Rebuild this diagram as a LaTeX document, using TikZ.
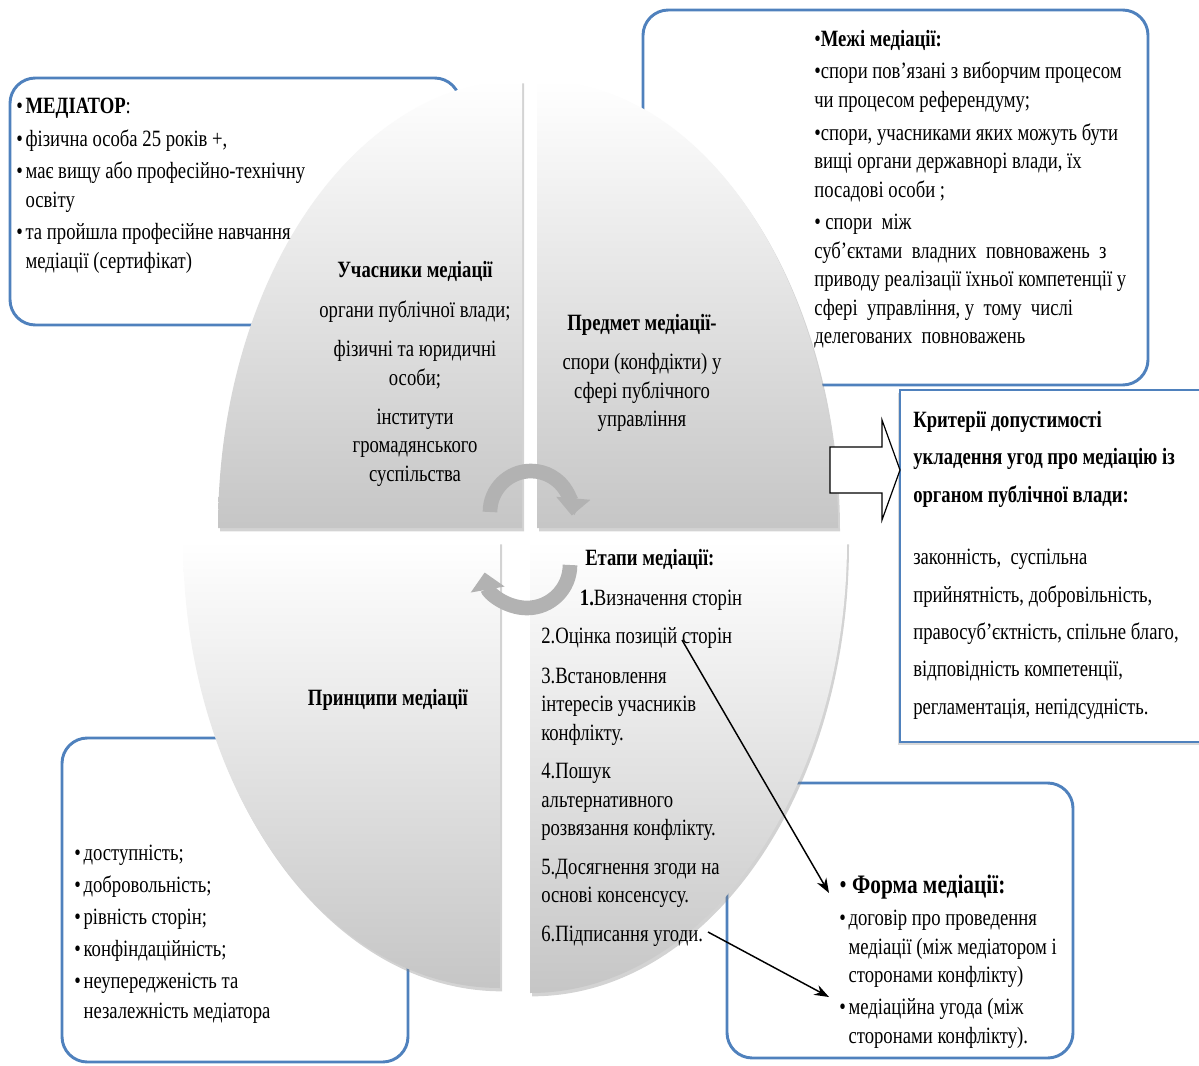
\documentclass[tikz,border=0pt]{standalone}
\usepackage{fontspec}
\setmainfont{Liberation Serif}[FakeStretch=0.8]
\usepackage{tikz}
\usetikzlibrary{arrows.meta}
\usetikzlibrary{shadows}
\definecolor{boxblue}{RGB}{79,129,189}
\newcommand{\natsp}{\spaceskip=0pt\xspaceskip=0pt\relax}
\newcommand{\bul}[1]{\par\noindent\hangindent=7pt\hangafter=1\makebox[7pt][l]{\textbullet}#1\par}

\tikzset{
  bluebox/.style={draw=boxblue, line width=2.2pt, fill=white, rounded corners=19pt},
  quarter/.style={top color=white, bottom color=gray!45, drop shadow={shadow xshift=1.5pt, shadow yshift=-2.5pt, opacity=0.35}},
  boxtext/.style={anchor=north west, inner sep=0pt, align=flush left, font=\fontsize{17.5}{21.4}\selectfont\setlength{\parskip}{3pt}},
  quadtext/.style={inner sep=0pt, align=center, font=\fontsize{17.5}{21.4}\selectfont},
  turn/.style={line width=11pt, draw=gray!60, -{Triangle[length=13pt,width=25pt]}},
  pointer/.style={line width=1.1pt, -{Stealth[length=11pt,width=8pt]}}
}

\begin{document}
\begin{tikzpicture}[x=0.75pt,y=0.75pt]
\useasboundingbox (0,0) rectangle (1199,-1066);

%boxes
\draw[bluebox] (10,-78) rectangle (460,-325);
\draw[bluebox] (643,-10) rectangle (1148,-385);
\draw[draw=boxblue, line width=2.2pt, fill=white, drop shadow={shadow xshift=-1.5pt, shadow yshift=-2pt, opacity=0.3}] (900,-390) rectangle (1210,-742);
\draw[bluebox] (62,-738) rectangle (408,-1062);
\draw[bluebox] (727,-783) rectangle (1073,-1058);

%quarters
\path[quarter] (522,-528) -- (218,-528) arc[start angle=180, end angle=90, x radius=304, y radius=448] -- cycle;
\path[quarter] (537,-528) -- (537,-80) arc[start angle=90, end angle=0, x radius=301, y radius=448] -- cycle;
\path[quarter] (500,-541) -- (183,-541) arc[start angle=180, end angle=270, x radius=317, y radius=447] -- cycle;
\path[quarter] (530,-541) -- (847,-541) arc[start angle=0, end angle=-90, x radius=317, y radius=452] -- cycle;

%turning arrows
\draw[turn] (490,-512) arc[start angle=180, end angle=-5, radius=41];
\draw[turn] (570,-565) arc[start angle=0, end angle=-170, radius=43];

%quarter texts
\node[quadtext, anchor=north] (uchas) at (415,-261) {\textbf{Учасники медіації}\\[8.5pt]органи публічної влади;\\[8pt]фізичні та юридичні\\особи;\\[8pt]інститути\\громадянського\\суспільства};
\node[quadtext, anchor=north] (predm) at (642,-314) {\textbf{Предмет медіації-}\\[8pt]спори (конфдікти) у\\сфері публічного\\управління};
\node[quadtext] (prync) at (388,-700) {\textbf{Принципи медіації}};
\node[quadtext, anchor=north west, align=left] (etapy) at (541,-549) {\hspace*{33pt}\textbf{Етапи медіації:}\\[8.5pt]\hspace*{29pt}\textbf{1.}Визначення сторін\\[7pt]2.Оцінка позицій сторін\\[8.5pt]3.Встановлення\\інтересів учасників\\конфлікту.\\[7.5pt]4.Пошук\\альтернативного\\розвязання конфлікту.\\[7.5pt]5.Досягнення згоди на\\основі консенсусу.\\[8pt]6.Підписання угоди.};

%box texts
\node[boxtext, text width=250pt] (med) at (16,-81) {\natsp\bul{\textbf{МЕДІАТОР}:}\bul{фізична особа 25 років +,}\bul{має вищу або професійно-технічну\newline освіту}\bul{та пройшла професійне навчання\newline медіації (сертифікат)}};
\node[boxtext, text width=250pt] (mezhi) at (814,-30) {\natsp\textbullet\textbf{Межі медіації:}\par\textbullet спори пов'язані з виборчим процесом\newline чи процесом референдуму;\par\textbullet спори, учасниками яких можуть бути\newline вищі органи державнорі влади, їх\newline посадові особи ;\par\textbullet{} спори\ \ між\newline суб'єктами\ \ владних\ \ повноважень\ \ з\newline приводу реалізації їхньої компетенції у\newline сфері\ \ управління, у\ \ тому\ \ числі\newline делегованих\ \ повноважень};
\node[boxtext, text width=215pt, font=\fontsize{17.5}{28}\selectfont] (krit) at (913,-411) {\natsp\textbf{Критерії допустимості}\newline\textbf{укладення угод про медіацію із}\newline\textbf{органом публічної влади:}\par\vspace{19pt}законність,\ \ суспільна\newline прийнятність, добровільність,\newline правосуб’єктність, спільне благо,\newline відповідність компетенції,\newline регламентація, непідсудність.};
\node[boxtext, text width=200pt, font=\fontsize{17.5}{22.5}\selectfont\setlength{\parskip}{1.5pt}] (princ) at (74,-828) {\natsp\bul{доступність;}\bul{добровольність;}\bul{рівність сторін;}\bul{конфіндаційність;}\bul{неупередженість та\newline незалежність медіатора}};
\node[boxtext, text width=200pt, font=\fontsize{17.5}{21.6}\selectfont\setlength{\parskip}{2pt}] (forma) at (839,-875) {\natsp{\fontsize{20}{24}\selectfont\textbullet\ \textbf{Форма медіації:}}\bul{договір про проведення\newline медіації (між медіатором і\newline сторонами конфлікту)}\bul{медіаційна угода (між\newline сторонами конфлікту).}};

%block arrow
\draw[line width=0.9pt, fill=white] (830,-447) -- (882,-447) -- (882,-420) -- (900,-470) -- (882,-520) -- (882,-493) -- (830,-493) -- cycle;

%pointers
\coordinate (st2) at (682,-640);
\coordinate (fm1) at (829,-893);
\coordinate (ug6) at (708,-932);
\coordinate (fm2) at (829,-997);
\draw[pointer] (st2) -- (fm1);
\draw[pointer] (ug6) -- (fm2);

\end{tikzpicture}
\end{document}
